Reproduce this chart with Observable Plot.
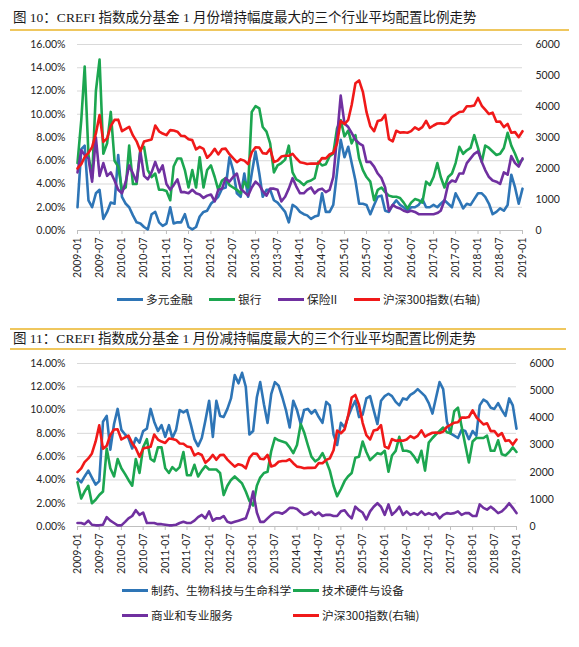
<!DOCTYPE html>
<html><head><meta charset="utf-8">
<script src="https://cdn.jsdelivr.net/npm/d3@7"></script>
<script src="https://cdn.jsdelivr.net/npm/@observablehq/plot@0.6"></script>
<style>
body{margin:0;background:#fff;}
#page{position:relative;width:579px;height:647px;overflow:hidden;background:#fff;font-family:"Noto Sans CJK SC",sans-serif;}
.title{position:absolute;left:13px;font-family:"Liberation Serif","Noto Sans CJK SC",serif;font-size:13.5px;color:#1a1a1a;white-space:nowrap;line-height:16px;}
.gold{position:absolute;height:2px;background:#efc75e;}
.chart{position:absolute;left:0;}
.leg{position:absolute;font-size:11.7px;color:#222;white-space:nowrap;line-height:14px;display:flex;align-items:center;}
.sw{display:inline-block;width:26px;height:3px;margin-right:3px;}
</style></head><body><div id="page"></div>
<script>
// ---------- labels ----------
const titleTop = "图 10：CREFI 指数成分基金 1 月份增持幅度最大的三个行业平均配置比例走势";
const titleBottom = "图 11：CREFI 指数成分基金 1 月份减持幅度最大的三个行业平均配置比例走势";
const namesTop = ["多元金融", "银行", "保险II", "沪深300指数(右轴)"];
const namesBottom = ["制药、生物科技与生命科学", "技术硬件与设备", "商业和专业服务", "沪深300指数(右轴)"];
const colors = ["#2e75b6", "#1ca650", "#7030a0", "#f01919"];
const xTickLabels = ["2009-01","2009-07","2010-01","2010-07","2011-01","2011-07","2012-01","2012-07","2013-01","2013-07","2014-01","2014-07","2015-01","2015-07","2016-01","2016-07","2017-01","2017-07","2018-01","2018-07","2019-01"];
const leftTicksTop = [0, 2, 4, 6, 8, 10, 12, 14, 16];
const leftTicksBottom = [0, 2, 4, 6, 8, 10, 12, 14];
const rightTicks = [0, 1000, 2000, 3000, 4000, 5000, 6000];
const startMonth = "2009-01"; // monthly series 2009-01 .. 2019-01 (121 points)

// ---------- data (percent, monthly) ----------
const diversifiedFin = [2.0,7.0,7.3,2.6,2.0,3.2,3.5,1.0,1.6,2.4, 2.3,6.5,2.9,2.3,2.0,1.3,0.7,0.6,0.3,0.1, 1.4,1.6,0.7,0.4,0.6,2.0,0.6,0.7,0.7,1.4, 0.3,0.1,0.3,1.2,1.6,1.7,2.3,2.6,2.9,3.6, 3.7,6.3,5.2,3.2,2.9,4.9,2.9,4.9,6.8,4.9, 2.9,3.5,3.5,2.6,2.4,2.0,1.6,0.7,2.2,2.0, 1.6,
 1.4,1.3,1.0,1.2,1.3,3.2,1.6,1.6,2.2,5.0, 7.8,6.3,7.2,5.8,4.3,2.3,2.3,2.2,1.4,2.2, 2.9,3.0,1.7,1.6,2.2,2.6,2.2,2.0,1.7,2.0, 2.0,2.2,2.7,2.0,2.0,2.2,2.0,2.3,2.6,2.3, 2.0,3.2,2.6,1.9,2.3,2.2,2.7,3.2,3.2,2.9, 2.3,1.4,1.6,1.9,1.7,2.2,4.8,3.7,2.3,3.6];
const banks = [5.8,9.5,14.1,6.5,4.5,12.0,14.7,6.6,7.5,10.2, 6.0,5.5,3.5,3.7,7.3,4.0,4.0,7.0,7.2,5.2, 4.6,4.9,3.5,3.5,3.4,2.6,5.5,6.2,6.2,5.2, 3.7,5.2,3.7,6.3,3.7,5.2,5.6,4.6,3.5,4.3, 4.5,3.9,3.7,3.5,3.2,4.2,3.7,10.2,10.7,10.5, 8.9,8.5,7.5,5.0,5.6,5.8,6.1,7.3,5.0,4.4, 4.2,
 3.9,4.2,4.3,4.5,5.9,5.6,5.7,6.4,6.6,8.8, 9.5,8.1,8.6,7.5,8.2,6.2,5.2,4.6,4.2,2.6, 3.5,3.7,3.3,3.0,2.9,2.9,2.8,2.4,1.9,2.4, 2.7,2.6,2.4,4.2,3.9,4.6,5.8,4.6,3.7,4.6, 4.9,5.8,7.2,6.6,6.9,7.1,8.2,7.1,5.9,7.3, 7.1,6.8,6.5,6.6,7.1,8.4,7.3,6.6,5.8,6.1];
const insurance = [5.0,6.9,6.5,6.2,4.2,8.0,4.7,5.8,4.7,5.0, 4.3,3.5,3.2,4.2,5.6,4.9,4.2,6.8,4.7,4.4, 5.0,5.9,5.0,5.6,4.0,3.5,3.9,4.4,3.3,3.3, 3.2,3.5,3.2,3.1,2.8,3.0,3.1,2.5,3.5,3.6, 4.5,4.2,4.6,4.9,3.6,3.3,3.0,3.7,4.2,3.9, 3.4,3.0,3.6,3.6,3.5,2.5,2.9,3.6,4.5,3.8, 3.2,
 3.2,3.5,3.7,3.2,3.5,3.6,3.3,3.5,4.6,8.0, 11.6,9.2,8.9,8.4,7.8,7.5,7.3,5.9,5.9,5.5, 4.9,4.5,3.7,1.7,2.2,2.0,1.9,1.7,1.6,1.7, 1.6,1.4,1.4,1.4,1.4,1.4,1.5,1.7,2.6,4.0, 4.3,4.2,4.9,4.9,5.8,6.2,6.6,6.8,5.9,5.2, 4.6,4.3,4.2,4.0,5.0,4.8,6.4,5.8,5.5,6.2];
const pharma = [4.1,3.8,4.3,4.8,4.2,3.6,3.9,9.0,9.5,6.6, 8.8,10.1,8.3,7.9,7.6,6.7,7.6,7.2,8.2,8.4, 10.1,9.0,8.2,8.7,7.7,8.7,7.6,8.3,10.0,9.8, 10.0,8.8,7.5,6.9,7.6,9.1,10.8,7.7,10.8,9.5, 9.4,10.1,11.0,13.0,12.3,13.2,12.0,7.9,8.2,11.1, 12.4,10.5,8.9,11.4,12.4,12.1,11.1,10.0,8.5,10.8, 10.0,
 8.8,10.0,10.1,9.7,10.0,9.4,8.9,10.7,10.4,7.9, 7.0,8.9,8.5,9.4,10.2,10.8,9.4,9.6,11.0,11.2, 10.0,8.8,10.8,11.2,11.4,11.2,10.7,10.4,11.0,10.9, 11.3,11.5,11.8,11.5,11.2,10.6,9.7,11.0,12.4,11.8, 9.0,8.0,7.8,7.6,8.3,8.2,7.5,8.2,7.8,10.4, 10.9,10.7,10.2,10.1,10.6,10.0,9.5,11.0,10.4,8.4];
const techHardware = [3.8,2.4,3.0,3.5,2.0,2.3,2.7,3.0,6.7,5.0, 4.3,5.8,5.0,4.5,4.0,3.5,5.8,4.6,6.8,7.5, 5.8,5.6,6.8,6.8,5.0,4.6,5.1,4.8,5.1,6.4, 4.4,4.4,5.3,4.3,4.8,5.2,4.9,4.9,4.9,4.6, 2.7,3.5,4.0,4.3,4.0,3.7,3.0,2.2,1.8,3.5, 4.2,4.6,4.7,6.5,7.6,7.4,7.3,7.2,6.8,6.3, 7.0,
 8.8,8.1,7.0,6.0,5.6,5.8,6.3,5.6,4.8,3.5, 2.6,3.2,3.9,4.3,4.6,5.9,6.0,7.3,6.4,5.7, 6.0,6.3,6.2,6.5,4.7,6.1,6.5,7.7,6.5,6.5, 6.4,6.0,5.5,6.5,4.8,7.2,7.6,7.9,8.2,8.5, 8.1,8.0,9.9,10.2,8.6,7.0,5.5,7.3,7.6,7.6, 7.6,7.8,6.5,6.5,7.4,6.2,6.1,6.4,6.8,6.4];
const commercialServices = [0.3,0.3,0.2,0.5,0.15,0.1,0.1,0.15,0.8,0.5, 0.3,0.1,0.1,0.4,0.7,0.9,1.4,1.0,1.2,0.3, 0.3,0.3,0.2,0.2,0.15,0.1,0.1,0.15,0.3,0.4, 0.3,0.3,0.5,0.8,1.0,0.7,1.3,0.5,0.7,0.7, 0.9,0.4,0.3,0.4,0.5,0.6,0.7,1.6,3.0,1.2, 0.4,0.4,0.7,1.0,1.2,1.2,1.1,1.3,1.6,1.6, 1.5,
 1.2,1.0,1.1,1.3,1.0,1.2,0.9,1.0,1.0,0.9, 0.9,1.3,1.4,1.0,0.7,1.7,1.4,1.2,0.6,1.3, 1.7,2.0,1.7,1.0,1.9,1.0,1.3,1.7,1.0,1.3, 1.0,1.15,1.0,1.3,1.0,1.15,1.0,1.15,0.7,1.0, 1.15,1.1,1.15,1.3,1.0,1.15,1.15,0.9,0.9,1.9, 1.6,1.45,1.7,1.45,1.15,1.3,1.6,2.0,1.6,1.15];
// CSI 300 (right axis, index points)
const csi300 = [2003,2140,2372,2507,2690,3130,3722,2860,2972,3372,3570,3575,
 3204,3281,3346,3067,2877,2564,2868,2904,2935,3386,3199,3128,
 3077,3239,3223,3187,3055,3044,2945,2915,2616,2696,2633,2346,
 2464,2635,2455,2627,2640,2462,2332,2204,2293,2254,2140,2523,
 2686,2674,2495,2478,2634,2208,2253,2384,2409,2409,2475,2331,
 2203,2178,2146,2159,2157,2165,2336,2327,2451,2508,2809,3533,
 3434,3572,4051,4749,4841,4473,3816,3366,3203,3534,3566,3731,
 2946,2878,3218,3156,3169,3154,3204,3327,3253,3336,3538,3311,
 3387,3452,3456,3439,3492,3666,3737,3822,3837,4006,4006,4031,
 4275,4023,3899,3757,3802,3510,3517,3335,3438,3153,3173,3011,
 3202];

// ---------- helpers ----------
const parseMonth = d3.utcParse("%Y-%m");
const t0 = parseMonth(startMonth);
const monthDate = i => d3.utcMonth.offset(t0, i);
const xTicks = xTickLabels.map(parseMonth);
const fmtMonth = d3.utcFormat("%Y-%m");

function makeChart({height, marginRight, yMax, leftTicks, series}) {
  const k = yMax / 6000;
  const lineMarks = series.map((s, j) =>
    Plot.line(s.values, {
      x: (d, i) => monthDate(i),
      y: j === 3 ? (d => d * k) : (d => d),
      stroke: colors[j], strokeWidth: 2.6, strokeLinejoin: "round"
    }));
  return Plot.plot({
    width: 579, height,
    marginLeft: 77, marginRight, marginTop: 10, marginBottom: 52,
    style: {fontFamily: "Lato, 'Noto Sans', sans-serif", fontSize: "10.5px", color: "#262626", background: "transparent", overflow: "visible"},
    x: {type: "utc", domain: [monthDate(0), monthDate(120)]},
    y: {domain: [0, yMax], label: null},
    marks: [
      Plot.gridY(leftTicks, {stroke: "#d9d9d9", strokeOpacity: 1, strokeWidth: 1}),
      Plot.ruleY([0], {stroke: "#bfbfbf", strokeWidth: 1}),
      Plot.axisY(leftTicks, {anchor: "left", tickSize: 0, tickPadding: 12, label: null, tickFormat: d => d.toFixed(2) + "%"}),
      Plot.axisY(rightTicks.map(v => v * k), {anchor: "right", tickSize: 0, tickPadding: 13, label: null, tickFormat: d => String(Math.round(d / k))}),
      Plot.axisX(xTicks, {tickSize: 4, tickPadding: 3, tickRotate: -90, stroke: "#bfbfbf", fill: "#262626", label: null, tickFormat: fmtMonth}),
      ...lineMarks
    ]
  });
}

const page = document.getElementById("page");
function add(html, cls, style) {
  const el = document.createElement("div");
  el.className = cls; if (html != null) el.textContent = html;
  Object.assign(el.style, style); page.appendChild(el); return el;
}
function legendItem(name, color, left, top) {
  const el = add(null, "leg", {left: left + "px", top: top + "px"});
  const sw = document.createElement("span"); sw.className = "sw"; sw.style.background = color;
  el.appendChild(sw); el.appendChild(document.createTextNode(name));
}

// ---------- top chart ----------
add(titleTop, "title", {top: "10px"});
add(null, "gold", {left: "10px", top: "29px", width: "559px"});
const c1 = makeChart({height: 248, marginRight: 57, yMax: 16, leftTicks: leftTicksTop,
  series: [{values: diversifiedFin}, {values: banks}, {values: insurance}, {values: csi300}]});
c1.classList.add("chart"); c1.style.top = "34px"; page.appendChild(c1);
[[117], [209], [278], [354]].forEach(([l], j) => legendItem(namesTop[j], colors[j], l, 292));

// ---------- bottom chart ----------
add(null, "gold", {left: "10px", top: "328px", width: "556px"});
add(titleBottom, "title", {top: "331px"});
add(null, "gold", {left: "10px", top: "348px", width: "556px"});
const c2 = makeChart({height: 225, marginRight: 63, yMax: 14, leftTicks: leftTicksBottom,
  series: [{values: pharma}, {values: techHardware}, {values: commercialServices}, {values: csi300}]});
c2.classList.add("chart"); c2.style.top = "353px"; page.appendChild(c2);
legendItem(namesBottom[0], colors[0], 122, 583);
legendItem(namesBottom[1], colors[1], 293, 583);
legendItem(namesBottom[2], colors[2], 122, 608);
legendItem(namesBottom[3], colors[3], 293, 608);
</script></body></html>
